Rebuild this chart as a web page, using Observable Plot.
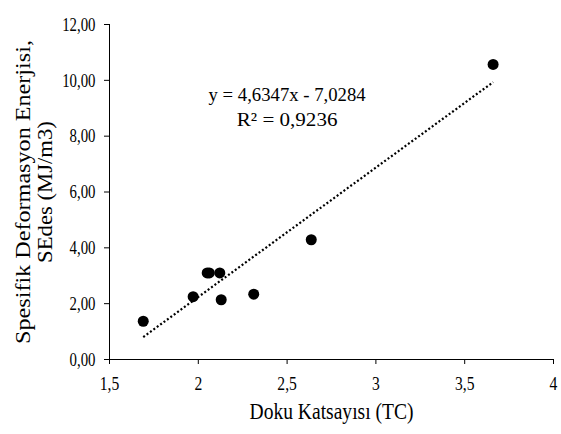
<!DOCTYPE html>
<html>
<head>
<meta charset="utf-8">
<script src="https://cdn.jsdelivr.net/npm/d3@7"></script>
<script src="https://cdn.jsdelivr.net/npm/@observablehq/plot@0.6"></script>
<style>
  html, body { margin: 0; padding: 0; background: #fff; }
  #chart svg { display: block; }
</style>
</head>
<body>
<div id="chart"></div>
<script>
// Data
const tcValues   = [1.690, 1.971, 2.050, 2.062, 2.121, 2.129, 2.312, 2.636, 3.660];
const sedValues  = [1.37, 2.25, 3.10, 3.10, 3.10, 2.14, 2.34, 4.29, 10.57];
const slope = [4.6347];
const intercept = [-7.0284];
const equationLines = ["y = 4,6347x - 7,0284", "R² = 0,9236"];
const xTicks = [1.5, 2, 2.5, 3, 3.5, 4];
const yTicks = [0, 2, 4, 6, 8, 10, 12];
const xTitle = ["Doku Katsayısı (TC)"];
const yTitle = ["Spesifik Deformasyon Enerjisi,\nSEdes (MJ/m3)"];

const points = tcValues.map((x, i) => ({x, y: sedValues[i]}));
const [xmin, xmax] = d3.extent(tcValues);
const trend = [xmin, xmax].map(x => ({x, y: slope[0] * x + intercept[0]}));

const comma = s => s.replace(".", ",");
const font = "'Liberation Serif', 'Times New Roman', serif";

const chart = Plot.plot({
  width: 561,
  height: 434,
  marginLeft: 109,
  marginRight: 8,
  marginTop: 24,
  marginBottom: 75,
  style: {fontFamily: font, fontSize: "16px", color: "#000", background: "#fff"},
  x: {domain: [1.5, 4]},
  y: {domain: [0, 12]},
  marks: [
    Plot.axisX({ticks: xTicks, tickSize: 5, tickPadding: 12, label: null,
      tickFormat: d => comma(String(d)), fontSize: 19.5, className: "tickx"}),
    Plot.axisY({ticks: yTicks, tickSize: 5, tickPadding: 9, label: null,
      tickFormat: d => comma(d3.format(".2f")(d)), fontSize: 19.5, className: "ticky"}),
    Plot.ruleY([0], {stroke: "#000", strokeWidth: 1}),
    Plot.ruleX([1.5], {stroke: "#000", strokeWidth: 1}),
    Plot.line(trend, {x: "x", y: "y", stroke: "#000", strokeWidth: 2.2,
      strokeDasharray: "2,2.2", strokeLinecap: "butt"}),
    Plot.dot(points, {x: "x", y: "y", r: 5.5, fill: "#000", stroke: "none"}),
    Plot.text([equationLines.join("\n")], {x: 2.5, y: 9.1, text: d => d,
      fontSize: 19.5, lineHeight: 1.31, textAnchor: "middle", lineAnchor: "middle", fill: "#000",
      className: "eq"}),
    Plot.text(xTitle, {frameAnchor: "bottom", dy: 52, text: d => d, fontSize: 23,
      lineAnchor: "middle", fill: "#000", className: "xtitle"}),
    Plot.text(yTitle, {frameAnchor: "left", dx: -76, rotate: -90, text: d => d,
      fontSize: 21, lineHeight: 1.05, lineAnchor: "middle", textAnchor: "middle", fill: "#000",
      className: "ytitle"})
  ]
});
document.getElementById("chart").appendChild(chart);

// Narrow/stretched serif look of the original (text scaled along its run)
function squeeze(selector, factors) {
  chart.querySelectorAll(selector).forEach(el => {
    const parts = el.querySelectorAll("tspan");
    const targets = parts.length ? Array.from(parts) : [el];
    targets.forEach((t, i) => {
      const f = Array.isArray(factors) ? factors[Math.min(i, factors.length - 1)] : factors;
      const len = t.getComputedTextLength();
      if (len > 0) {
        t.setAttribute("textLength", (len * f).toFixed(2));
        t.setAttribute("lengthAdjust", "spacingAndGlyphs");
      }
    });
  });
}
squeeze(".tickx text", 0.8);
squeeze(".ticky text", 0.76);
squeeze(".eq text", [0.96, 1.08]);
squeeze(".xtitle text", 0.85);
squeeze(".ytitle text", [1.15, 1.08]);
</script>
</body>
</html>
